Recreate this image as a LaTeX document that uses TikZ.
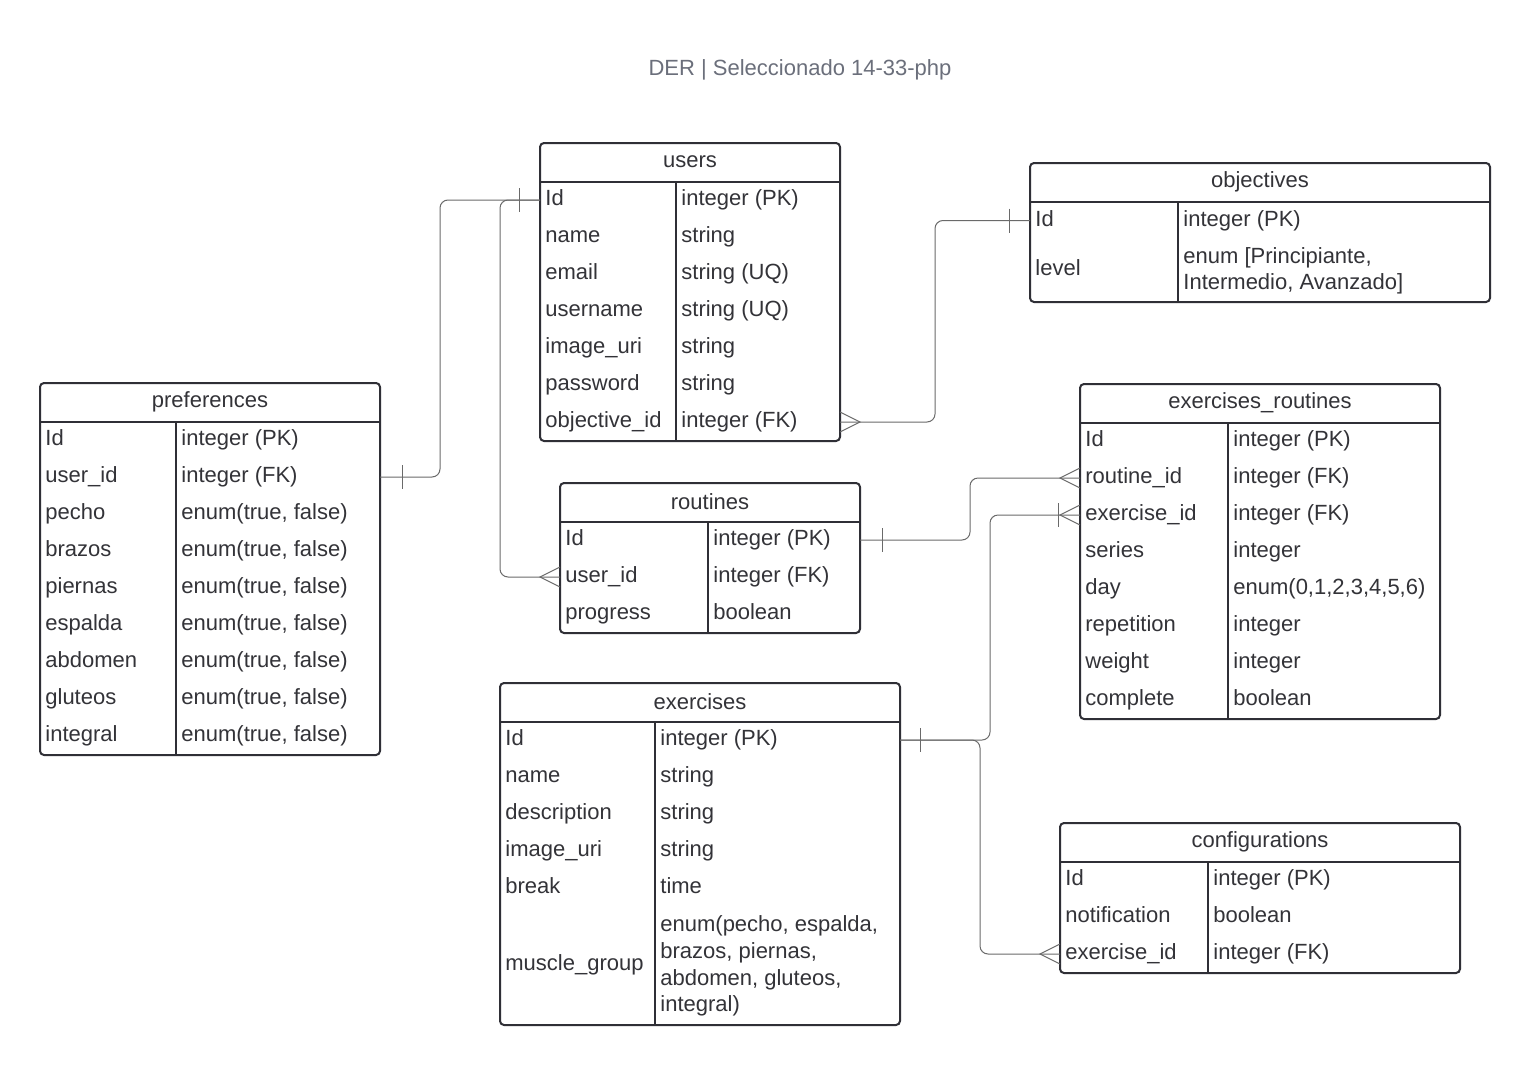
\documentclass[tikz,border=0pt]{standalone}
\usepackage{fontspec}
\setmainfont{Liberation Sans}
\usepackage{tikz}
\definecolor{linec}{HTML}{2F2F36}
\definecolor{txtc}{HTML}{333338}
\definecolor{conc}{HTML}{6A6A6A}
\definecolor{titc}{HTML}{6B6F7B}
\tikzset{
  tbl/.style={draw=linec,line width=1pt,rounded corners=2pt,outer sep=0pt,inner sep=0pt,anchor=north west},
  sep/.style={draw=linec,line width=1pt},
  hd/.style={font=\fontsize{11}{13}\selectfont,text=txtc,inner sep=0pt},
  fld/.style={anchor=west,inner sep=0pt,font=\fontsize{11}{13}\selectfont,text=txtc,text height=8pt,text depth=2.5pt},
  mfld/.style={anchor=west,inner sep=0pt,font=\fontsize{11}{13.3}\selectfont,text=txtc,align=left},
  link/.style={draw=conc,line width=0.5pt,rounded corners=4pt},
  endmk/.style={draw=conc,line width=0.5pt}
}
\begin{document}
\begin{tikzpicture}[x=0.5pt,y=-0.5pt]
\useasboundingbox[fill=white] (0,0) rectangle (1530,1065);
\node[font=\fontsize{11}{13}\selectfont,text=titc,inner sep=0pt] (title) at (800,70) {DER | Seleccionado 14-33-php};

% users
\node[tbl,minimum width=150pt,minimum height=149pt] (users) at (540,143) {};
\node[hd] (users-h) at (690,162) {users};
\draw[sep] (540,182) -- (840,182) (676,182) -- (676,441);
\foreach \f/\t [count=\i] in {Id/integer (PK),name/string,email/string (UQ),username/string (UQ),image\_uri/string,password/string,objective\_id/integer (FK)}{
  \node[fld] (u\i) at (545,{163+37*\i}) {\f};
  \node[fld] (ut\i) at (681,{163+37*\i}) {\t};
}

% objectives
\node[tbl,minimum width=230pt,minimum height=69.5pt] (obj) at (1030,163) {};
\node[hd] (obj-h) at (1260,182) {objectives};
\draw[sep] (1030,202) -- (1490,202) (1178,202) -- (1178,302);
\node[fld] (o1) at (1035,220.5) {Id};
\node[fld] (ot1) at (1183,220.5) {integer (PK)};
\node[fld] (o2) at (1035,270) {level};
\node[mfld] (ot2) at (1183,271) {enum [Principiante,\\Intermedio, Avanzado]};

% preferences
\node[tbl,minimum width=170pt,minimum height=186pt] (pref) at (40,383) {};
\node[hd] (pref-h) at (210,402) {preferences};
\draw[sep] (40,422) -- (380,422) (176,422) -- (176,755);
\foreach \f/\t [count=\i] in {Id/integer (PK),user\_id/integer (FK),pecho/{enum(true, false)},brazos/{enum(true, false)},piernas/{enum(true, false)},espalda/{enum(true, false)},abdomen/{enum(true, false)},gluteos/{enum(true, false)},integral/{enum(true, false)}}{
  \node[fld] (p\i) at (45,{403+37*\i}) {\f};
  \node[fld] (pt\i) at (181,{403+37*\i}) {\t};
}

% routines
\node[tbl,minimum width=150pt,minimum height=75pt] (rout) at (560,483) {};
\node[hd] (rout-h) at (710,502) {routines};
\draw[sep] (560,522) -- (860,522) (708,522) -- (708,633);
\foreach \f/\t [count=\i] in {Id/integer (PK),user\_id/integer (FK),progress/boolean}{
  \node[fld] (r\i) at (565,{503+37*\i}) {\f};
  \node[fld] (rt\i) at (713,{503+37*\i}) {\t};
}

% exercises_routines
\node[tbl,minimum width=180pt,minimum height=167.5pt] (exr) at (1080,384) {};
\node[hd] (exr-h) at (1260,403) {exercises\_routines};
\draw[sep] (1080,423) -- (1440,423) (1228,423) -- (1228,719);
\foreach \f/\t [count=\i] in {Id/integer (PK),routine\_id/integer (FK),exercise\_id/integer (FK),series/integer,day/{enum(0,1,2,3,4,5,6)},repetition/integer,weight/integer,complete/boolean}{
  \node[fld] (e\i) at (1085,{404+37*\i}) {\f};
  \node[fld] (et\i) at (1233,{404+37*\i}) {\t};
}

% exercises
\node[tbl,minimum width=200pt,minimum height=171pt] (exer) at (500,683) {};
\node[hd] (exer-h) at (700,702) {exercises};
\draw[sep] (500,722) -- (900,722) (655,722) -- (655,1025);
\foreach \f/\t [count=\i] in {Id/integer (PK),name/string,description/string,image\_uri/string,break/time}{
  \node[fld] (x\i) at (505,{703+37*\i}) {\f};
  \node[fld] (xt\i) at (660,{703+37*\i}) {\t};
}
\node[fld] (x6) at (505,965) {muscle\_group};
\node[mfld] (xt6) at (660,966) {enum(pecho, espalda,\\brazos, piernas,\\abdomen, gluteos,\\integral)};

% configurations
\node[tbl,minimum width=200pt,minimum height=75pt] (conf) at (1060,823) {};
\node[hd] (conf-h) at (1260,842) {configurations};
\draw[sep] (1060,862) -- (1460,862) (1208,862) -- (1208,973);
\foreach \f/\t [count=\i] in {Id/integer (PK),notification/boolean,exercise\_id/integer (FK)}{
  \node[fld] (c\i) at (1065,{843+37*\i}) {\f};
  \node[fld] (ct\i) at (1213,{843+37*\i}) {\t};
}

% relations
\draw[link] (pref.east |- p2) -- ++(60,0) |- (users.west |- u1);
\draw[link] (users.west |- u1) -- ++(-40,0) |- (rout.west |- r2);
\draw[link] (users.east |- u7) -- ++(95,0) |- (obj.west |- o1);
\draw[link] (rout.east |- r1) -- ++(110,0) |- (exr.west |- e2);
\draw[link] (exer.east |- x1) -- ++(90,0) |- (exr.west |- e3);
\draw[link] (exer.east |- x1) -- ++(80,0) |- (conf.west |- c3);

% ends
\draw[endmk] (pref.east |- p2) ++(22,-12) -- ++(0,24);
\draw[endmk] (users.west |- u1) ++(-21,-12) -- ++(0,24);
\draw[endmk] (rout.west |- r2) ++(0,-10) -- ++(-20,10) -- ++(20,10);
\draw[endmk] (users.east |- u7) ++(0,-10) -- ++(20,10) -- ++(-20,10);
\draw[endmk] (obj.west |- o1) ++(-21,-12) -- ++(0,24);
\draw[endmk] (rout.east |- r1) ++(22,-12) -- ++(0,24);
\draw[endmk] (exr.west |- e2) ++(0,-10) -- ++(-20,10) -- ++(20,10);
\draw[endmk] (exr.west |- e3) ++(0,-10) -- ++(-20,10) -- ++(20,10);
\draw[endmk] (exr.west |- e3) ++(-22,-12) -- ++(0,24);
\draw[endmk] (exer.east |- x1) ++(20,-12) -- ++(0,24);
\draw[endmk] (conf.west |- c3) ++(0,-10) -- ++(-20,10) -- ++(20,10);
\end{tikzpicture}
\end{document}
